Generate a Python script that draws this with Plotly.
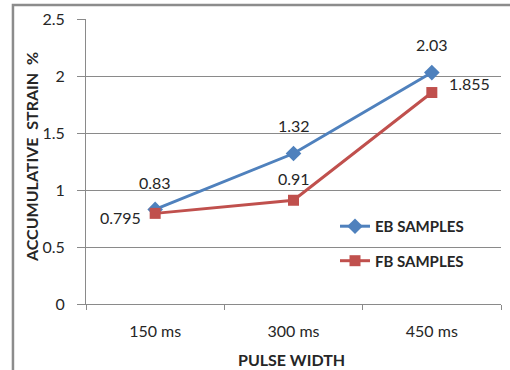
import plotly.graph_objects as go

categories = ["150 ms", "300 ms", "450 ms"]
eb_values = [0.83, 1.32, 2.03]
fb_values = [0.795, 0.91, 1.855]
y_ticks = [0, 0.5, 1, 1.5, 2, 2.5]
y_tick_labels = ["0", "0.5", "1", "1.5", "2", "2.5"]

# label placement offsets (pixels) for each series' value labels
eb_label_shift = [(0, 27), (0, 28), (0, 28)]
fb_label_shift = [(-12, -4, "right"), (0, 22, "center"), (15, 9, "left")]

FONT = "Lato"
TEXT = "#262626"
GRID = "#8a8a8a"
EB_COLOR = "#4F81BD"
FB_COLOR = "#C0504D"

fig = go.Figure()

fig.add_trace(go.Scatter(
    x=categories, y=eb_values, name="EB SAMPLES", legendgroup="eb",
    mode="lines+markers",
    line=dict(color=EB_COLOR, width=3),
    marker=dict(symbol="diamond", size=12, color=EB_COLOR),
    cliponaxis=False,
))

fig.add_trace(go.Scatter(
    x=categories, y=fb_values, name="FB SAMPLES", legendgroup="fb",
    mode="lines+markers",
    line=dict(color=FB_COLOR, width=3),
    marker=dict(symbol="square", size=11, color=FB_COLOR),
    cliponaxis=False,
))

annotations = []
for cat, val, (dx, dy) in zip(categories, eb_values, eb_label_shift):
    annotations.append(dict(
        x=cat, y=val, text=str(val), showarrow=False,
        xshift=dx, yshift=dy, xanchor="center",
        font=dict(family=FONT, size=16, color=TEXT)))
for cat, val, (dx, dy, anchor) in zip(categories, fb_values, fb_label_shift):
    annotations.append(dict(
        x=cat, y=val, text=str(val), showarrow=False,
        xshift=dx, yshift=dy, xanchor=anchor,
        font=dict(family=FONT, size=16, color=TEXT)))

annotations += [
    dict(text="ACCUMULATIVE  STRAIN  %", xref="paper", yref="paper",
         x=-0.13, y=0.516, xanchor="center", yanchor="middle",
         textangle=-90, showarrow=False,
         font=dict(family=FONT, size=16, color=TEXT, weight="bold")),
    dict(text="PULSE WIDTH", xref="paper", yref="paper",
         x=0.496, y=-0.193, xanchor="center", yanchor="middle",
         showarrow=False,
         font=dict(family=FONT, size=16, color=TEXT, weight="bold")),
]

fig.update_layout(
    width=510, height=370,
    margin=dict(l=86, r=9, t=19, b=66),
    paper_bgcolor="white", plot_bgcolor="white",
    font=dict(family=FONT, size=16, color=TEXT),
    showlegend=True,
    legend=dict(
        x=0.6, y=0.33, xanchor="left", yanchor="top",
        bgcolor="rgba(0,0,0,0)", traceorder="grouped", tracegroupgap=12,
        font=dict(family=FONT, size=15, color=TEXT, weight="bold"),
        itemsizing="trace",
    ),
    xaxis=dict(
        type="category", range=[-0.5, 2.5],
        tickson="boundaries", ticks="outside", ticklen=5, tickcolor=GRID,
        showline=True, linecolor=GRID, linewidth=1,
        showgrid=False, tickfont=dict(size=16, color=TEXT),
        ticklabelstandoff=13,
    ),
    yaxis=dict(
        range=[0, 2.5], tickvals=y_ticks, ticktext=y_tick_labels,
        ticks="outside", ticklen=8, tickcolor=GRID,
        showline=True, linecolor=GRID, linewidth=1,
        showgrid=True, gridcolor=GRID, gridwidth=1,
        zeroline=False, tickfont=dict(size=16, color=TEXT),
        ticklabelstandoff=9,
    ),
    shapes=[dict(
        type="rect", xref="paper", yref="paper",
        x0=-0.176, y0=-0.4, x1=1.2, y1=1.049,
        line=dict(color="#8c8c8c", width=2.5), layer="below",
    )],
    annotations=annotations,
)

fig.write_html("out.html")
